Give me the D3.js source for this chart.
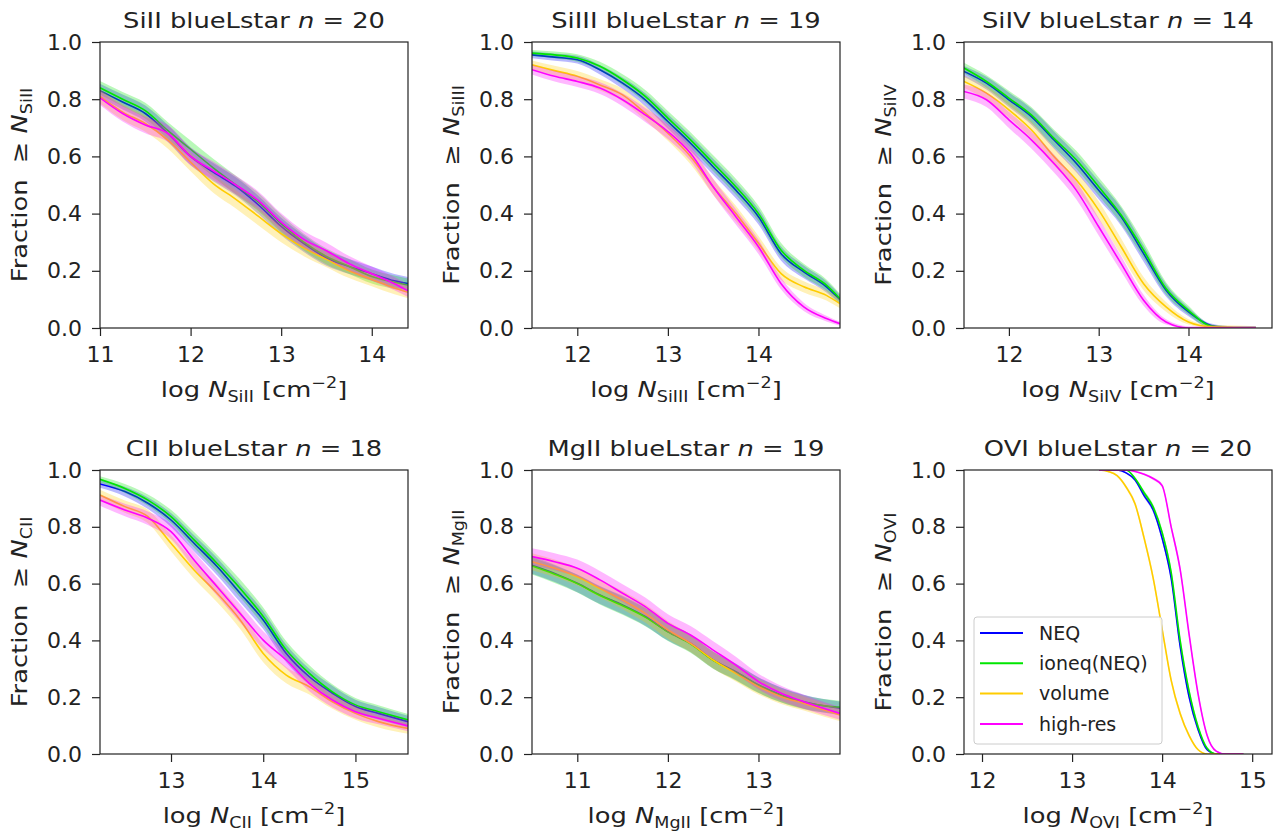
<!DOCTYPE html>
<html>
<head>
<meta charset="utf-8">
<script src="https://cdn.jsdelivr.net/npm/d3@7"></script>
<style>
  body { margin: 0; background: #fff; }
  text { font-family: "DejaVu Sans", sans-serif; fill: #222; }
</style>
</head>
<body>
<svg id="chart" width="1280" height="835"></svg>
<script>
// ---- data ----
const seriesNames = ['NEQ', 'ioneq(NEQ)', 'volume', 'high-res'];
const ions = ['SiII', 'SiIII', 'SiIV', 'CII', 'MgII', 'OVI'];
const counts = [20, 19, 14, 18, 19, 20];
const xLimits = [[11, 14.4], [11.5, 14.9], [11.5, 14.93], [12.23, 15.57], [10.5, 13.9], [11.8, 15.22]];
const xTicks = [[11, 12, 13, 14], [12, 13, 14], [12, 13, 14], [13, 14, 15], [11, 12, 13], [12, 13, 14, 15]];
const yTicks = [0, 0.2, 0.4, 0.6, 0.8, 1.0];
// half width of the shaded scatter band (at fraction 0.5), one per panel
const bandSpread = [0.032, 0.028, 0.032, 0.032, 0.032, 0.014];

const logN_SiII = [11, 11.25, 11.5, 11.75, 12, 12.25, 12.5, 12.75, 13, 13.25, 13.5, 13.75, 14, 14.25, 14.4];
const SiII_NEQ     = [.83, .79, .75, .68, .60, .545, .495, .43, .355, .295, .245, .215, .19, .165, .155];
const SiII_ioneq   = [.84, .80, .76, .69, .625, .56, .50, .44, .365, .30, .25, .215, .18, .16, .15];
const SiII_volume  = [.81, .755, .715, .657, .58, .505, .45, .39, .33, .28, .24, .20, .17, .14, .125];
const SiII_highres = [.805, .75, .71, .68, .60, .55, .50, .445, .37, .31, .27, .225, .19, .155, .13];

const logN_SiIII = [11.5, 11.75, 12, 12.25, 12.5, 12.75, 13, 13.25, 13.5, 13.75, 14, 14.25, 14.5, 14.75, 14.9];
const SiIII_NEQ     = [.955, .947, .938, .903, .856, .798, .722, .646, .564, .482, .389, .26, .196, .144, .099];
const SiIII_ioneq   = [.961, .955, .944, .915, .868, .81, .734, .658, .576, .494, .40, .272, .202, .15, .103];
const SiIII_volume  = [.92, .90, .88, .85, .815, .751, .681, .60, .494, .40, .296, .19, .144, .114, .085];
const SiIII_highres = [.903, .88, .862, .839, .798, .745, .687, .611, .494, .389, .284, .155, .074, .033, .015];

const logN_SiIV = [11.5, 11.75, 12, 12.25, 12.5, 12.75, 13, 13.25, 13.5, 13.75, 14, 14.25, 14.5, 14.75];
const SiIV_NEQ     = [.897, .856, .798, .739, .658, .576, .482, .389, .26, .132, .056, .009, 0, 0];
const SiIV_ioneq   = [.909, .862, .804, .745, .664, .588, .494, .395, .272, .138, .062, .006, 0, 0];
const SiIV_volume  = [.862, .821, .763, .693, .60, .518, .412, .284, .155, .074, .021, .004, .002, 0];
const SiIV_highres = [.827, .798, .728, .658, .576, .482, .354, .225, .097, .021, 0, 0, 0, 0];

const logN_CII = [12.23, 12.5, 12.75, 13, 13.25, 13.5, 13.75, 14, 14.25, 14.5, 14.75, 15, 15.25, 15.57];
const CII_NEQ     = [.951, .924, .883, .824, .742, .66, .566, .472, .354, .272, .214, .167, .143, .114];
const CII_ioneq   = [.967, .935, .894, .836, .754, .671, .583, .484, .366, .284, .219, .173, .149, .12];
const CII_volume  = [.912, .871, .836, .742, .648, .566, .472, .354, .278, .237, .184, .143, .114, .09];
const CII_highres = [.894, .859, .83, .783, .683, .589, .495, .401, .331, .249, .19, .149, .126, .099];

const logN_MgII = [10.5, 10.75, 11, 11.25, 11.5, 11.75, 12, 12.25, 12.5, 12.75, 13, 13.25, 13.5, 13.9];
const MgII_NEQ     = [.665, .636, .601, .56, .525, .484, .431, .39, .331, .29, .243, .208, .184, .161];
const MgII_ioneq   = [.662, .633, .60, .558, .522, .482, .43, .388, .33, .288, .242, .207, .182, .164];
const MgII_volume  = [.677, .654, .624, .583, .542, .495, .437, .39, .331, .284, .237, .202, .178, .137];
const MgII_highres = [.695, .677, .654, .613, .566, .519, .46, .419, .366, .313, .255, .214, .184, .143];

const logN_OVI = [13.3, 13.4, 13.5, 13.6, 13.7, 13.8, 13.9, 14.0, 14.1, 14.2, 14.3, 14.4, 14.5, 14.6, 14.7, 14.9];
const OVI_NEQ     = [1, 1, 1, .99, .965, .91, .86, .76, .62, .38, .20, .085, .015, 0, 0, 0];
const OVI_ioneq   = [1, 1, 1, 1, .97, .92, .87, .78, .64, .40, .22, .095, .02, 0, 0, 0];
const OVI_volume  = [1, .995, .98, .94, .88, .76, .62, .44, .26, .143, .065, .015, 0, 0, 0, 0];
const OVI_highres = [1, 1, 1, 1, .995, .985, .97, .945, .80, .65, .42, .21, .065, .01, 0, 0];

const panelX = [logN_SiII, logN_SiIII, logN_SiIV, logN_CII, logN_MgII, logN_OVI];
const panelY = [
  [SiII_NEQ, SiII_ioneq, SiII_volume, SiII_highres],
  [SiIII_NEQ, SiIII_ioneq, SiIII_volume, SiIII_highres],
  [SiIV_NEQ, SiIV_ioneq, SiIV_volume, SiIV_highres],
  [CII_NEQ, CII_ioneq, CII_volume, CII_highres],
  [MgII_NEQ, MgII_ioneq, MgII_volume, MgII_highres],
  [OVI_NEQ, OVI_ioneq, OVI_volume, OVI_highres]
];

// ---- layout / style ----
const seriesColors = ['#0000ff', '#00e600', '#ffcc00', '#ff00ff'];
const colLeft = [100, 532, 964];
const rowTop = [42, 470];
const axW = 308, axH = [286, 284];
const tickFont = 22, labelFont = 22, subFont = 15;
const labelStretch = 1.17;   // the figure's labels run wider than plain DejaVu

let svg = d3.select('#chart');

// binomial-like width: thin where the fraction is pinned at 0 or 1
let bandWidth = function (v, spread) {
  return spread * Math.max(0.2, Math.sqrt(4 * v * (1 - v)));
}

let stretchText = function (sel) {
  let len = sel.node().getComputedTextLength();
  sel.attr('textLength', len * labelStretch)
     .attr('lengthAdjust', 'spacingAndGlyphs');
}

let drawPanel = function (p) {
  let col = p % 3, row = Math.floor(p / 3),
      w = axW, h = axH[row],
      ion = ions[p];

  let g = svg.append('g')
    .attr('transform', 'translate(' + colLeft[col] + ',' + rowTop[row] + ')');

  let x = d3.scaleLinear().domain(xLimits[p]).range([0, w]);
  let y = d3.scaleLinear().domain([0, 1]).range([h, 0]);

  g.append('clipPath').attr('id', 'clip' + p)
    .append('rect').attr('width', w).attr('height', h);

  let plot = g.append('g').attr('clip-path', 'url(#clip' + p + ')');
  let xs = panelX[p], spread = bandSpread[p];

  panelY[p].forEach(function (vals, s) {
    let pts = xs.map(function (xv, i) { return [xv, vals[i]]; });

    let area = d3.area()
      .x(function (d) { return x(d[0]); })
      .y0(function (d) { return y(Math.max(0, d[1] - bandWidth(d[1], spread))); })
      .y1(function (d) { return y(Math.min(1, d[1] + bandWidth(d[1], spread))); })
      .curve(d3.curveMonotoneX);

    let line = d3.line()
      .x(function (d) { return x(d[0]); })
      .y(function (d) { return y(d[1]); })
      .curve(d3.curveMonotoneX);

    plot.append('path')
      .attr('d', area(pts))
      .attr('fill', seriesColors[s])
      .attr('fill-opacity', 0.28);

    plot.append('path')
      .attr('d', line(pts))
      .attr('fill', 'none')
      .attr('stroke', seriesColors[s])
      .attr('stroke-width', 1.6);
  });

  let xAxis = d3.axisBottom(x)
    .tickValues(xTicks[p])
    .tickFormat(d3.format('d'))
    .tickSize(8)
    .tickSizeOuter(0)
    .tickPadding(10);

  let yAxis = d3.axisLeft(y)
    .tickValues(yTicks)
    .tickFormat(d3.format('.1f'))
    .tickSize(8)
    .tickSizeOuter(0)
    .tickPadding(10);

  let gx = g.append('g').attr('transform', 'translate(0,' + h + ')').call(xAxis);
  let gy = g.append('g').call(yAxis);

  [gx, gy].forEach(function (a) {
    a.select('.domain').remove();
    a.selectAll('line').attr('stroke', '#222').attr('stroke-width', 1.2);
    a.selectAll('text')
      .attr('font-size', tickFont)
      .attr('font-family', '"DejaVu Sans", sans-serif')
      .attr('fill', '#222');
  });

  g.append('rect')
    .attr('width', w).attr('height', h)
    .attr('fill', 'none')
    .attr('stroke', '#222')
    .attr('stroke-width', 1.2);

  // title
  let title = g.append('text')
    .attr('x', w / 2).attr('y', -14)
    .attr('text-anchor', 'middle')
    .attr('font-size', labelFont);
  title.append('tspan').text(ion + ' blueLstar ');
  title.append('tspan').attr('font-style', 'italic').text('n');
  title.append('tspan').text(' = ' + counts[p]);
  stretchText(title);

  // x label
  let xl = g.append('text')
    .attr('x', w / 2).attr('y', h + 69)
    .attr('text-anchor', 'middle')
    .attr('font-size', labelFont);
  xl.append('tspan').text('log ');
  xl.append('tspan').attr('font-style', 'italic').text('N');
  xl.append('tspan').attr('font-size', subFont).attr('dy', 5).text(ion);
  xl.append('tspan').attr('dy', -5).text(' [cm');
  xl.append('tspan').attr('font-size', subFont).attr('dy', -9).text('\u22122');
  xl.append('tspan').attr('dy', 9).text(']');
  stretchText(xl);

  // y label
  let yl = g.append('text')
    .attr('transform', 'translate(-73,' + (h / 2) + ') rotate(-90)')
    .attr('text-anchor', 'middle')
    .attr('font-size', labelFont)
    .style('white-space', 'pre');
  yl.append('tspan').text('Fraction  \u2265 ');
  yl.append('tspan').attr('font-style', 'italic').text('N');
  yl.append('tspan').attr('font-size', subFont).attr('dy', 5).text(ion);
  stretchText(yl);

  if (p === 5) drawLegend(g);
}

let drawLegend = function (g) {
  let lg = g.append('g').attr('transform', 'translate(10,147)');
  lg.append('rect')
    .attr('width', 188).attr('height', 127)
    .attr('rx', 3)
    .attr('fill', '#fff').attr('fill-opacity', 0.85)
    .attr('stroke', '#ccc');

  seriesNames.forEach(function (name, s) {
    let yy = 16 + s * 30.3;
    lg.append('line')
      .attr('x1', 6).attr('x2', 49)
      .attr('y1', yy).attr('y2', yy)
      .attr('stroke', seriesColors[s])
      .attr('stroke-width', 2);
    lg.append('text')
      .attr('x', 65).attr('y', yy)
      .attr('dy', '0.35em')
      .attr('font-size', 19)
      .text(name);
  });
}

d3.range(6).forEach(drawPanel);
</script>
</body>
</html>
